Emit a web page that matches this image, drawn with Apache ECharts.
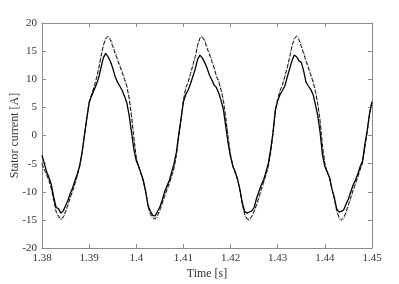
<html>
  <head>
    <meta charset="UTF-8" />
    <script src="https://cdn.jsdelivr.net/npm/echarts/dist/echarts.min.js"></script>
    <title>stator current</title>
    <style>
      html, body { margin: 0; padding: 0; background: #fff; }
      #main { width: 399px; height: 284px; }
    </style>
  </head>
  <body>
    <div id="main"></div>
    <script>
      // samples every 0.5 ms from 1.38 s to 1.45 s
      const tStart = 1.38;
      const tStep = 0.0005;
      const xTicks = [1.38, 1.39, 1.4, 1.41, 1.42, 1.43, 1.44, 1.45];
      const yTicks = [-20, -15, -10, -5, 0, 5, 10, 15, 20];

      // solid line
      const measured = [
        -3.5, -5.0, -6.5, -7.5, -8.8, -11.0, -12.8, -13.0, -13.8, -13.4,
        -12.5, -11.5, -10.3, -9.3, -8.0, -6.8, -5.3, -3.0, 0.0, 3.0,
        5.8, 7.0, 8.0, 9.0, 10.2, 12.0, 13.8, 14.6, 14.0, 13.2,
        12.0, 10.5, 9.5, 8.8, 8.0, 7.0, 5.8, 3.5, 0.5, -2.5,
        -4.5, -5.5, -6.7, -8.0, -10.0, -12.5, -13.5, -14.2, -14.3, -13.5,
        -12.7, -11.5, -10.0, -9.0, -8.0, -6.5, -5.0, -3.0, 0.2, 3.0,
        6.0, 7.3, 8.1, 9.2, 10.5, 11.8, 13.5, 14.3, 13.8, 13.0,
        12.0, 10.8, 9.9, 9.0, 8.5, 7.5, 6.2, 4.5, 1.5, -1.5,
        -3.8, -5.5, -6.5, -7.8, -9.7, -12.0, -13.5, -13.8, -13.6, -13.4,
        -12.8, -11.2, -10.0, -8.8, -7.9, -6.5, -5.0, -2.5, 0.5, 4.5,
        6.2, 7.3, 8.0, 8.8, 10.3, 11.8, 13.2, 14.3, 14.0, 13.3,
        13.0, 11.5, 9.5, 8.8, 8.2, 7.3, 5.5, 3.5, 0.5, -3.5,
        -5.5, -6.5, -7.5, -9.5, -11.0, -13.0, -13.6, -13.5, -13.2, -12.2,
        -11.3, -10.0, -8.8, -7.9, -6.8, -5.5, -4.5, -1.5, 1.0, 4.0,
        6.0
      ];

      // dashed line
      const modelA = [
        -5.0, -6.0, -7.0, -8.0, -9.5, -11.5, -13.5, -14.3, -14.9, -14.5,
        -13.5, -12.3, -11.0, -9.8, -8.5, -7.0, -5.5, -3.0, 0.0, 3.2,
        6.0, 7.3, 8.5, 10.0, 11.8, 14.0, 16.0, 17.2, 17.6, 17.0,
        15.8, 14.6, 13.5, 12.3, 11.2, 10.0, 8.7, 6.5, 3.3, -0.5,
        -4.0, -5.5, -6.8, -8.2, -10.0, -12.5, -14.0, -14.6, -14.8, -14.2,
        -13.2, -12.0, -10.8, -9.6, -8.5, -7.2, -5.8, -3.5, -0.2, 3.0,
        6.3, 8.5, 9.5, 11.0, 12.5, 14.0, 16.0, 17.3, 17.5, 16.8,
        15.5, 14.5, 13.2, 12.0, 10.5, 9.5, 8.0, 6.0, 3.0, -0.5,
        -3.5, -5.5, -6.7, -8.0, -9.8, -12.3, -14.0, -14.8, -15.0, -14.3,
        -13.4, -12.3, -11.0, -9.6, -8.3, -7.0, -5.5, -3.0, 0.5, 4.5,
        6.5, 8.0, 9.0, 10.5, 12.0, 13.8, 15.8, 17.2, 17.6, 17.0,
        15.8, 14.6, 13.2, 12.0, 10.8, 9.5, 7.8, 5.5, 2.5, -2.0,
        -5.0, -6.5, -7.5, -9.5, -11.2, -13.3, -14.5, -15.0, -14.6, -13.6,
        -12.3, -11.0, -9.7, -8.5, -7.3, -6.0, -4.8, -2.0, 0.8, 4.0,
        6.0
      ];

      // dotted line
      const modelB = [
        -5.2, -6.2, -7.2, -8.2, -9.7, -11.8, -13.8, -14.6, -15.1, -14.8,
        -13.8, -12.5, -11.2, -10.0, -8.7, -7.2, -5.6, -3.2, -0.2, 3.0,
        5.9, 7.2, 8.4, 9.9, 11.7, 13.9, 16.0, 17.3, 17.8, 17.3,
        16.2, 15.0, 13.8, 12.6, 11.5, 10.3, 9.0, 6.9, 3.7, -0.2,
        -3.8, -5.4, -6.7, -8.1, -9.9, -12.6, -14.2, -14.8, -15.0, -14.5,
        -13.5, -12.3, -11.1, -9.9, -8.7, -7.4, -6.0, -3.7, -0.4, 2.8,
        6.2, 8.4, 9.4, 10.9, 12.4, 13.9, 16.0, 17.4, 17.7, 17.1,
        15.9, 14.8, 13.5, 12.3, 10.8, 9.8, 8.3, 6.4, 3.4, -0.2,
        -3.3, -5.4, -6.6, -7.9, -9.7, -12.4, -14.2, -15.0, -15.2, -14.6,
        -13.7, -12.6, -11.3, -9.9, -8.6, -7.2, -5.7, -3.2, 0.3, 4.3,
        6.4, 7.9, 8.9, 10.4, 11.9, 13.7, 15.8, 17.3, 17.8, 17.3,
        16.1, 14.9, 13.5, 12.3, 11.1, 9.8, 8.1, 5.9, 2.9, -1.7,
        -4.8, -6.4, -7.4, -9.4, -11.3, -13.5, -14.8, -15.2, -14.9, -13.9,
        -12.6, -11.3, -10.0, -8.8, -7.5, -6.2, -5.0, -2.2, 0.6, 3.9,
        6.0
      ];

      const pairs = (arr) => arr.map((v, i) => [tStart + i * tStep, v]);

      const font = 'Liberation Serif';
      const frameColor = '#8c8c8c';
      const labelColor = '#333';

      const chart = echarts.init(document.getElementById('main'));
      const axisCommon = {
        type: 'value',
        axisLine: { show: true, onZero: false, lineStyle: { color: frameColor, width: 1 } },
        axisTick: { show: true, inside: true, length: 4, lineStyle: { color: frameColor } },
        splitLine: { show: false }
      };

      chart.setOption({
        animation: false,
        backgroundColor: '#fff',
        grid: { left: 42, right: 27, top: 23, bottom: 36, containLabel: false, outerBoundsMode: 'none' },
        xAxis: [
          Object.assign({}, axisCommon, {
            min: xTicks[0], max: xTicks[xTicks.length - 1], interval: 0.01,
            position: 'bottom',
            name: 'Time [s]', nameLocation: 'middle', nameGap: 20, nameMoveOverlap: false,
            nameTextStyle: { fontFamily: font, fontSize: 12, color: labelColor },
            axisLabel: {
              fontFamily: font, fontSize: 11, color: labelColor, margin: 5,
              formatter: (v) => String(+v.toFixed(2))
            }
          }),
          Object.assign({}, axisCommon, {
            min: xTicks[0], max: xTicks[xTicks.length - 1], interval: 0.01,
            position: 'top', axisLabel: { show: false }
          })
        ],
        yAxis: [
          Object.assign({}, axisCommon, {
            min: yTicks[0], max: yTicks[yTicks.length - 1], interval: 5,
            position: 'left',
            name: 'Stator current [A]', nameLocation: 'middle', nameGap: 21, nameMoveOverlap: false,
            nameTextStyle: { fontFamily: font, fontSize: 12, color: labelColor },
            axisLabel: { fontFamily: font, fontSize: 11, color: labelColor, margin: 5 }
          }),
          Object.assign({}, axisCommon, {
            min: yTicks[0], max: yTicks[yTicks.length - 1], interval: 5,
            position: 'right', axisLabel: { show: false }
          })
        ],
        series: [
          {
            name: 'dotted', type: 'line', showSymbol: false, data: pairs(modelB),
            lineStyle: { color: '#666', width: 1, type: [1, 1.5] }
          },
          {
            name: 'dashed', type: 'line', showSymbol: false, data: pairs(modelA),
            lineStyle: { color: '#111', width: 1, type: [4, 2] }
          },
          {
            name: 'solid', type: 'line', showSymbol: false, data: pairs(measured),
            lineStyle: { color: '#000', width: 1.3 }
          }
        ]
      });
    </script>
  </body>
</html>
